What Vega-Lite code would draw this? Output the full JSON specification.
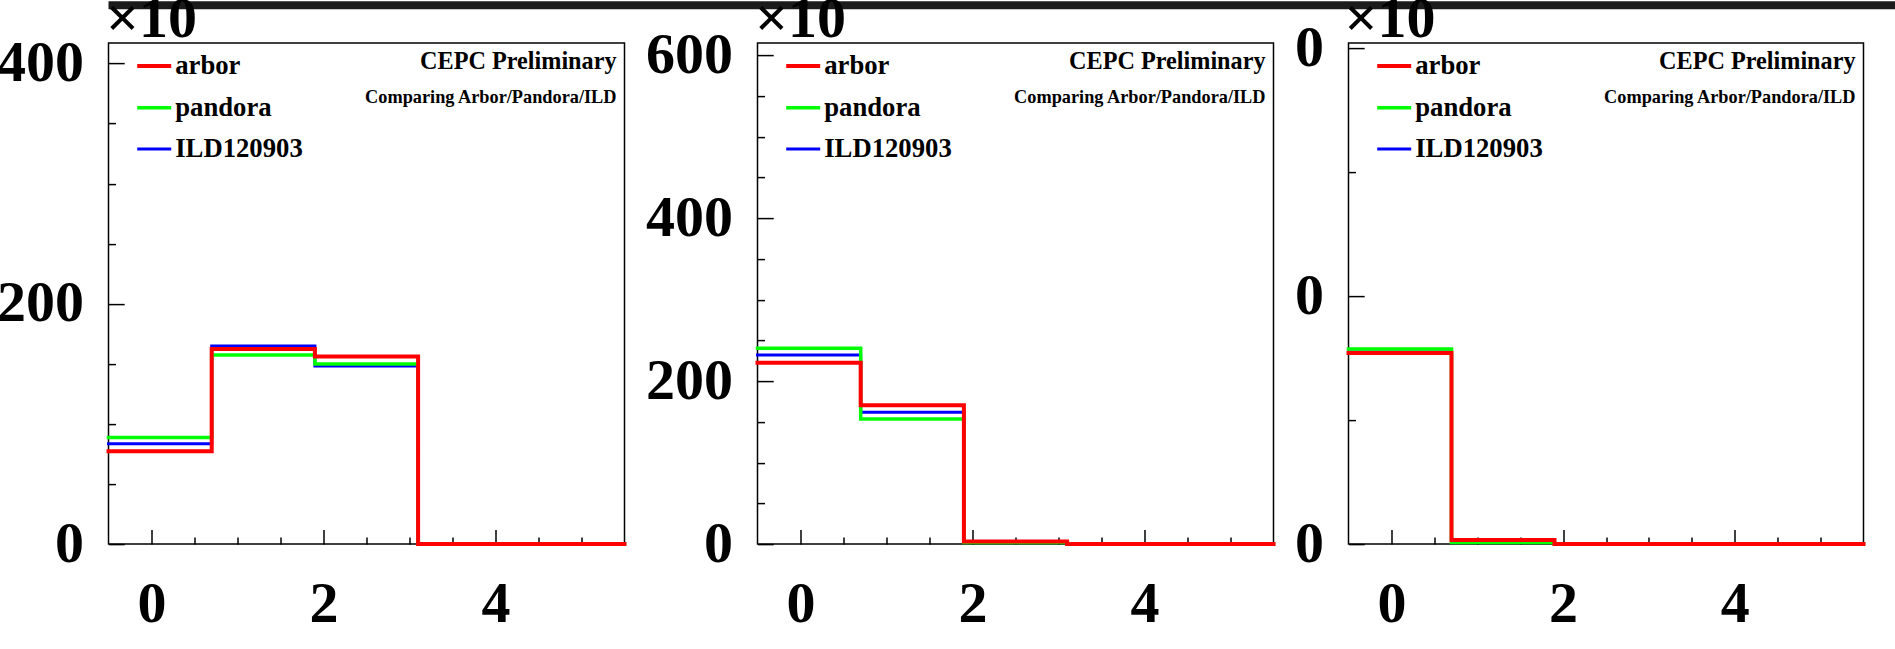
{
  "$schema": "https://vega.github.io/schema/vega-lite/v6.json",
  "background": "white",
  "padding": {"left": -4.5, "top": -10.7, "right": 0, "bottom": 0},
  "bounds": "flush",
  "spacing": 33.8,
  "config": {
    "font": "Liberation Serif",
    "view": {"stroke": "black", "strokeWidth": 1.5, "fill": "white"}
  },
  "vconcat": [
    {
      "width": 1788,
      "height": 8,
      "view": {"stroke": null, "fill": "#1b1b1b"},
      "data": {"values": []},
      "mark": "point"
    },
    {
      "bounds": "flush",
      "spacing": 0,
      "resolve": {
        "scale": {"x": "independent", "y": "independent", "color": "independent", "strokeWidth": "independent"},
        "legend": {"color": "independent"}
      },
      "hconcat": [
        {
          "width": 516,
          "height": 501,
          "title": {"text": "CEPC Preliminary", "subtitle": "Comparing Arbor/Pandora/ILD", "anchor": "end", "frame": "group", "orient": "top", "offset": -115.5, "dx": -8, "font": "Liberation Serif", "fontSize": 24.2, "fontWeight": "bold", "color": "black", "subtitleFont": "Liberation Serif", "subtitleFontSize": 18.3, "subtitleFontWeight": "bold", "subtitleColor": "black", "subtitlePadding": 14.5},
          "data": {"values": [
            {"sample": "ILD120903", "edge": -0.5, "events": 83.5},
            {"sample": "ILD120903", "edge": 0.7, "events": 164.8},
            {"sample": "ILD120903", "edge": 1.9, "events": 148.3},
            {"sample": "ILD120903", "edge": 3.1, "events": 0},
            {"sample": "ILD120903", "edge": 4.3, "events": 0},
            {"sample": "ILD120903", "edge": 5.5, "events": 0},
            {"sample": "pandora", "edge": -0.5, "events": 88.7},
            {"sample": "pandora", "edge": 0.7, "events": 157.3},
            {"sample": "pandora", "edge": 1.9, "events": 150.0},
            {"sample": "pandora", "edge": 3.1, "events": 0},
            {"sample": "pandora", "edge": 4.3, "events": 0},
            {"sample": "pandora", "edge": 5.5, "events": 0},
            {"sample": "arbor", "edge": -0.5, "events": 77.3},
            {"sample": "arbor", "edge": 0.7, "events": 162.4},
            {"sample": "arbor", "edge": 1.9, "events": 156.2},
            {"sample": "arbor", "edge": 3.1, "events": 0},
            {"sample": "arbor", "edge": 4.3, "events": 0},
            {"sample": "arbor", "edge": 5.5, "events": 0}
          ]},
          "mark": {"type": "line", "interpolate": "step-after", "strokeJoin": "miter", "strokeCap": "square"},
          "encoding": {
            "x": {"field": "edge", "type": "quantitative", "scale": {"domain": [-0.5, 5.5], "nice": false, "zero": false},
              "axis": {"title": null, "values": [0, 0.5, 1, 1.5, 2, 2.5, 3, 3.5, 4, 4.5, 5], "labelExpr": "datum.value % 2 === 0 ? format(datum.value, 'd') : ''", "tickSize": {"condition": {"test": "datum.value % 2 === 0", "value": -14.5}, "value": -7}, "tickColor": "black", "tickWidth": 1.5, "domain": false, "grid": false, "labelFont": "Liberation Serif", "labelFontSize": 58, "labelFontWeight": "bold", "labelColor": "black", "labelBaseline": "alphabetic", "labelPadding": 92.1, "labelOverlap": false, "labelBound": false, "labelFlush": false}},
            "y": {"field": "events", "type": "quantitative", "scale": {"domain": [0, 417], "nice": false, "zero": true},
              "axis": {"values": [0, 50, 100, 150, 200, 250, 300, 350, 400], "labelExpr": "datum.value % 200 === 0 ? format(datum.value, 'd') : ''", "tickSize": {"condition": {"test": "datum.value % 200 === 0", "value": -15.7}, "value": -7}, "tickColor": "black", "tickWidth": 1.5, "domain": false, "grid": false, "labelFont": "Liberation Serif", "labelFontSize": 58, "labelFontWeight": "bold", "labelColor": "black", "labelPadding": 40.8, "labelOverlap": false, "labelBound": false, "labelFlush": false,
                "title": "×10", "titleAngle": 0, "titleX": -3, "titleY": -6.5, "titleAlign": "left", "titleBaseline": "alphabetic", "titleFont": "Liberation Serif", "titleFontSize": 58, "titleFontWeight": "bold", "titleColor": "black"}},
            "color": {"field": "sample", "type": "nominal", "scale": {"domain": ["arbor", "pandora", "ILD120903"], "range": ["#ff0000", "#00ff00", "#0000ff"]},
              "legend": {"title": null, "orient": "none", "legendX": 21.7, "legendY": -1, "padding": 5, "symbolType": "stroke", "symbolSize": 1156, "symbolStrokeWidth": 3, "labelFont": "Liberation Serif", "labelFontSize": 26.7, "labelFontWeight": "bold", "labelColor": "black", "labelOffset": 2, "rowPadding": 8.7, "labelLimit": 400}},
            "strokeWidth": {"field": "sample", "type": "nominal", "scale": {"domain": ["arbor", "pandora", "ILD120903"], "range": [4, 3, 3]}, "legend": null}
          }
        },
        {
          "width": 133,
          "height": 501,
          "view": {"stroke": null, "fill": null},
          "data": {"values": []},
          "mark": "point"
        },
        {
          "width": 516,
          "height": 501,
          "title": {"text": "CEPC Preliminary", "subtitle": "Comparing Arbor/Pandora/ILD", "anchor": "end", "frame": "group", "orient": "top", "offset": -115.5, "dx": -8, "font": "Liberation Serif", "fontSize": 24.2, "fontWeight": "bold", "color": "black", "subtitleFont": "Liberation Serif", "subtitleFontSize": 18.3, "subtitleFontWeight": "bold", "subtitleColor": "black", "subtitlePadding": 14.5},
          "data": {"values": [
            {"sample": "ILD120903", "edge": -0.5, "events": 232.2},
            {"sample": "ILD120903", "edge": 0.7, "events": 161.7},
            {"sample": "ILD120903", "edge": 1.9, "events": 2.5},
            {"sample": "ILD120903", "edge": 3.1, "events": 0},
            {"sample": "ILD120903", "edge": 4.3, "events": 0},
            {"sample": "ILD120903", "edge": 5.5, "events": 0},
            {"sample": "pandora", "edge": -0.5, "events": 240.3},
            {"sample": "pandora", "edge": 0.7, "events": 153.6},
            {"sample": "pandora", "edge": 1.9, "events": 2.0},
            {"sample": "pandora", "edge": 3.1, "events": 0},
            {"sample": "pandora", "edge": 4.3, "events": 0},
            {"sample": "pandora", "edge": 5.5, "events": 0},
            {"sample": "arbor", "edge": -0.5, "events": 222.5},
            {"sample": "arbor", "edge": 0.7, "events": 170.4},
            {"sample": "arbor", "edge": 1.9, "events": 3.1},
            {"sample": "arbor", "edge": 3.1, "events": 0},
            {"sample": "arbor", "edge": 4.3, "events": 0},
            {"sample": "arbor", "edge": 5.5, "events": 0}
          ]},
          "mark": {"type": "line", "interpolate": "step-after", "strokeJoin": "miter", "strokeCap": "square"},
          "encoding": {
            "x": {"field": "edge", "type": "quantitative", "scale": {"domain": [-0.5, 5.5], "nice": false, "zero": false},
              "axis": {"title": null, "values": [0, 0.5, 1, 1.5, 2, 2.5, 3, 3.5, 4, 4.5, 5], "labelExpr": "datum.value % 2 === 0 ? format(datum.value, 'd') : ''", "tickSize": {"condition": {"test": "datum.value % 2 === 0", "value": -14.5}, "value": -7}, "tickColor": "black", "tickWidth": 1.5, "domain": false, "grid": false, "labelFont": "Liberation Serif", "labelFontSize": 58, "labelFontWeight": "bold", "labelColor": "black", "labelBaseline": "alphabetic", "labelPadding": 92.1, "labelOverlap": false, "labelBound": false, "labelFlush": false}},
            "y": {"field": "events", "type": "quantitative", "scale": {"domain": [0, 615], "nice": false, "zero": true},
              "axis": {"values": [0, 50, 100, 150, 200, 250, 300, 350, 400, 450, 500, 550, 600], "labelExpr": "datum.value % 200 === 0 ? format(datum.value, 'd') : ''", "tickSize": {"condition": {"test": "datum.value % 200 === 0", "value": -15.7}, "value": -7}, "tickColor": "black", "tickWidth": 1.5, "domain": false, "grid": false, "labelFont": "Liberation Serif", "labelFontSize": 58, "labelFontWeight": "bold", "labelColor": "black", "labelPadding": 40.8, "labelOverlap": false, "labelBound": false, "labelFlush": false,
                "title": "×10", "titleAngle": 0, "titleX": -3, "titleY": -6.5, "titleAlign": "left", "titleBaseline": "alphabetic", "titleFont": "Liberation Serif", "titleFontSize": 58, "titleFontWeight": "bold", "titleColor": "black"}},
            "color": {"field": "sample", "type": "nominal", "scale": {"domain": ["arbor", "pandora", "ILD120903"], "range": ["#ff0000", "#00ff00", "#0000ff"]},
              "legend": {"title": null, "orient": "none", "legendX": 21.7, "legendY": -1, "padding": 5, "symbolType": "stroke", "symbolSize": 1156, "symbolStrokeWidth": 3, "labelFont": "Liberation Serif", "labelFontSize": 26.7, "labelFontWeight": "bold", "labelColor": "black", "labelOffset": 2, "rowPadding": 8.7, "labelLimit": 400}},
            "strokeWidth": {"field": "sample", "type": "nominal", "scale": {"domain": ["arbor", "pandora", "ILD120903"], "range": [4, 3, 3]}, "legend": null}
          }
        },
        {
          "width": 75,
          "height": 501,
          "view": {"stroke": null, "fill": null},
          "data": {"values": []},
          "mark": "point"
        },
        {
          "width": 515,
          "height": 501,
          "title": {"text": "CEPC Preliminary", "subtitle": "Comparing Arbor/Pandora/ILD", "anchor": "end", "frame": "group", "orient": "top", "offset": -115.5, "dx": -8, "font": "Liberation Serif", "fontSize": 24.2, "fontWeight": "bold", "color": "black", "subtitleFont": "Liberation Serif", "subtitleFontSize": 18.3, "subtitleFontWeight": "bold", "subtitleColor": "black", "subtitlePadding": 14.5},
          "data": {"values": [
            {"sample": "ILD120903", "edge": -0.5, "events": 387.5},
            {"sample": "ILD120903", "edge": 0.7, "events": 7.0},
            {"sample": "ILD120903", "edge": 1.9, "events": 0.3},
            {"sample": "ILD120903", "edge": 3.1, "events": 0},
            {"sample": "ILD120903", "edge": 4.3, "events": 0},
            {"sample": "ILD120903", "edge": 5.5, "events": 0},
            {"sample": "pandora", "edge": -0.5, "events": 393.5},
            {"sample": "pandora", "edge": 0.7, "events": 3.3},
            {"sample": "pandora", "edge": 1.9, "events": 0},
            {"sample": "pandora", "edge": 3.1, "events": 0},
            {"sample": "pandora", "edge": 4.3, "events": 0},
            {"sample": "pandora", "edge": 5.5, "events": 0},
            {"sample": "arbor", "edge": -0.5, "events": 385.5},
            {"sample": "arbor", "edge": 0.7, "events": 8.4},
            {"sample": "arbor", "edge": 1.9, "events": 0.4},
            {"sample": "arbor", "edge": 3.1, "events": 0},
            {"sample": "arbor", "edge": 4.3, "events": 0},
            {"sample": "arbor", "edge": 5.5, "events": 0}
          ]},
          "mark": {"type": "line", "interpolate": "step-after", "strokeJoin": "miter", "strokeCap": "square"},
          "encoding": {
            "x": {"field": "edge", "type": "quantitative", "scale": {"domain": [-0.5, 5.5], "nice": false, "zero": false},
              "axis": {"title": null, "values": [0, 0.5, 1, 1.5, 2, 2.5, 3, 3.5, 4, 4.5, 5], "labelExpr": "datum.value % 2 === 0 ? format(datum.value, 'd') : ''", "tickSize": {"condition": {"test": "datum.value % 2 === 0", "value": -14.5}, "value": -7}, "tickColor": "black", "tickWidth": 1.5, "domain": false, "grid": false, "labelFont": "Liberation Serif", "labelFontSize": 58, "labelFontWeight": "bold", "labelColor": "black", "labelBaseline": "alphabetic", "labelPadding": 92.1, "labelOverlap": false, "labelBound": false, "labelFlush": false}},
            "y": {"field": "events", "type": "quantitative", "scale": {"domain": [0, 1010], "nice": false, "zero": true},
              "axis": {"values": [0, 250, 500, 750, 1000], "labelExpr": "datum.value % 500 === 0 ? slice(format(datum.value, 'd'), -1) : ''", "tickSize": {"condition": {"test": "datum.value % 500 === 0", "value": -15.7}, "value": -7}, "tickColor": "black", "tickWidth": 1.5, "domain": false, "grid": false, "labelFont": "Liberation Serif", "labelFontSize": 58, "labelFontWeight": "bold", "labelColor": "black", "labelPadding": 40.8, "labelOverlap": false, "labelBound": false, "labelFlush": false,
                "title": "×10", "titleAngle": 0, "titleX": -4.5, "titleY": -6.5, "titleAlign": "left", "titleBaseline": "alphabetic", "titleFont": "Liberation Serif", "titleFontSize": 58, "titleFontWeight": "bold", "titleColor": "black"}},
            "color": {"field": "sample", "type": "nominal", "scale": {"domain": ["arbor", "pandora", "ILD120903"], "range": ["#ff0000", "#00ff00", "#0000ff"]},
              "legend": {"title": null, "orient": "none", "legendX": 21.7, "legendY": -1, "padding": 5, "symbolType": "stroke", "symbolSize": 1156, "symbolStrokeWidth": 3, "labelFont": "Liberation Serif", "labelFontSize": 26.7, "labelFontWeight": "bold", "labelColor": "black", "labelOffset": 2, "rowPadding": 8.7, "labelLimit": 400}},
            "strokeWidth": {"field": "sample", "type": "nominal", "scale": {"domain": ["arbor", "pandora", "ILD120903"], "range": [4, 3, 3]}, "legend": null}
          }
        }
      ]
    }
  ]
}
